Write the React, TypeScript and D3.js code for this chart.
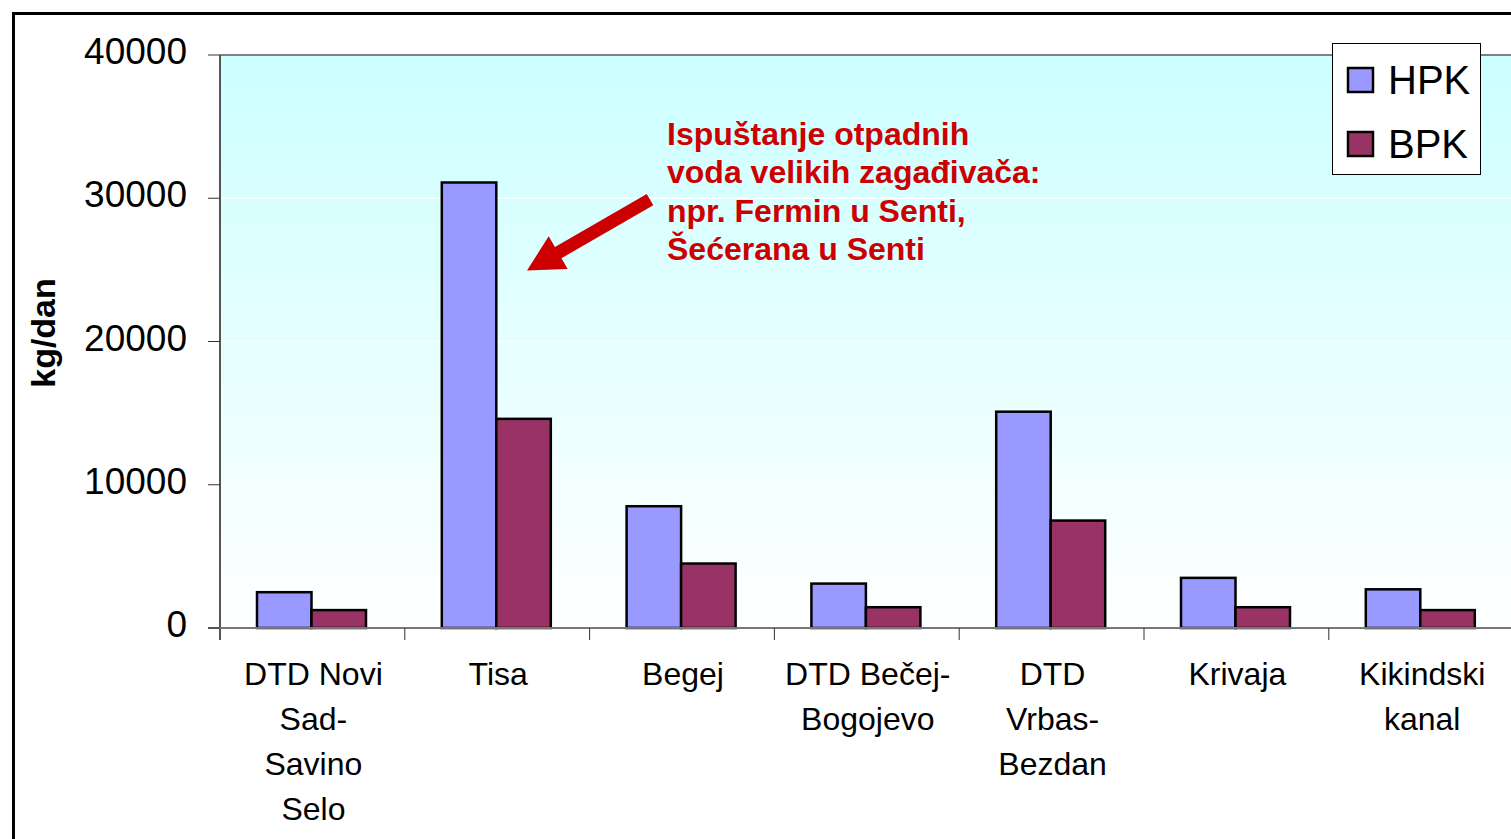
import React from 'react';
import * as d3 from 'd3';

const categories = [
  'DTD Novi Sad-Savino Selo',
  'Tisa',
  'Begej',
  'DTD Bečej-Bogojevo',
  'DTD Vrbas-Bezdan',
  'Krivaja',
  'Kikindski kanal',
];
// wrapped labels, as in the original
const categoryLines = [
  ['DTD Novi', 'Sad-', 'Savino', 'Selo'],
  ['Tisa'],
  ['Begej'],
  ['DTD Bečej-', 'Bogojevo'],
  ['DTD', 'Vrbas-', 'Bezdan'],
  ['Krivaja'],
  ['Kikindski', 'kanal'],
];
const series = ['HPK', 'BPK'];
const hpk = [2500, 31100, 8500, 3100, 15100, 3500, 2700];
const bpk = [1250, 14600, 4500, 1450, 7500, 1450, 1250];
const yTicks = [0, 10000, 20000, 30000, 40000];
const note = [
  'Ispuštanje otpadnih',
  'voda velikih zagađivača:',
  'npr. Fermin u Senti,',
  'Šećerana u Senti',
];

const colors: Record<string, string> = { HPK: '#9999FF', BPK: '#993366' };
const FONT = '"Liberation Sans", Arial, sans-serif';

export default function App() {
  const W = 1511;
  const H = 839;
  const left = 220;
  const top = 55;
  const bottom = 628;
  const step = 184.8;

  const x = d3
    .scaleBand<string>()
    .domain(categories)
    .range([left, left + step * categories.length]);
  const x1 = d3.scaleBand<string>().domain(series).range([37, 146]);
  const y = d3.scaleLinear().domain([0, 40000]).range([bottom, top]);

  const values: Record<string, number[]> = { HPK: hpk, BPK: bpk };
  const right = Math.max(x.range()[1], W + 20);

  // arrow from annotation to Tisa bars
  const tail: [number, number] = [650, y(29900)];
  const tip: [number, number] = [527, y(24950)];
  const dx = tip[0] - tail[0];
  const dy = tip[1] - tail[1];
  const len = Math.hypot(dx, dy);
  const ux = dx / len;
  const uy = dy / len;
  const px = -uy;
  const py = ux;
  const headLen = 36;
  const headHalf = 19;
  const shaftHalf = 6.5;
  const bx = tip[0] - ux * headLen;
  const by = tip[1] - uy * headLen;
  const arrowPts = [
    [tail[0] + px * shaftHalf, tail[1] + py * shaftHalf],
    [bx + px * shaftHalf, by + py * shaftHalf],
    [bx + px * headHalf, by + py * headHalf],
    tip,
    [bx - px * headHalf, by - py * headHalf],
    [bx - px * shaftHalf, by - py * shaftHalf],
    [tail[0] - px * shaftHalf, tail[1] - py * shaftHalf],
  ];

  return (
    <svg
      width={W}
      height={H}
      style={{ position: 'absolute', left: 0, top: 0, fontFamily: FONT }}
    >
      <defs>
        <linearGradient id="bg" x1="0" y1="0" x2="0" y2="1">
          <stop offset="0%" stopColor="#CCFFFF" />
          <stop offset="100%" stopColor="#FFFFFF" />
        </linearGradient>
      </defs>
      <rect x={0} y={0} width={W} height={H} fill="#fff" />
      {/* outer frame */}
      <rect x={13.5} y={13.5} width={W + 40} height={H + 40} fill="none" stroke="#000" strokeWidth={3} />

      {/* plot area */}
      <rect x={left} y={top} width={right - left} height={bottom - top} fill="url(#bg)" />
      {yTicks.slice(1, -1).map(t => (
        <line key={t} x1={left} x2={right} y1={y(t)} y2={y(t)} stroke="#fff" strokeWidth={1.5} opacity={0.9} />
      ))}
      <line x1={left} x2={right} y1={top} y2={top} stroke="#808080" strokeWidth={2} />

      {/* bars */}
      {categories.map((c, i) => (
        <g key={c} transform={`translate(${x(c)},0)`}>
          {series.map(s => (
            <rect
              key={s}
              x={x1(s)}
              y={y(values[s][i])}
              width={x1.bandwidth()}
              height={y(0) - y(values[s][i])}
              fill={colors[s]}
              stroke="#000"
              strokeWidth={2.5}
            />
          ))}
        </g>
      ))}

      {/* axes */}
      <line x1={left} x2={left} y1={top} y2={bottom + 12} stroke="#555" strokeWidth={2} />
      <line x1={left - 12} x2={right} y1={bottom} y2={bottom} stroke="#777" strokeWidth={2} />
      {yTicks.map(t => (
        <g key={t}>
          <line x1={left - 12} x2={left} y1={y(t)} y2={y(t)} stroke="#333" strokeWidth={1} />
          <text x={187} y={y(t) + 9} textAnchor="end" fontSize={37} fill="#000">
            {t}
          </text>
        </g>
      ))}
      {categories.map(c => (
        <line key={c} x1={x(c)! + step} x2={x(c)! + step} y1={bottom} y2={bottom + 12} stroke="#333" strokeWidth={1} />
      ))}
      {categories.map((c, i) => (
        <text key={c} textAnchor="middle" fontSize={32} fill="#000">
          {categoryLines[i].map((ln, j) => (
            <tspan key={j} x={x(c)! + step / 2 + 1} y={685 + j * 45}>
              {ln}
            </tspan>
          ))}
        </text>
      ))}

      {/* y label */}
      <text
        transform="translate(55,333) rotate(-90)"
        textAnchor="middle"
        fontSize={34}
        fontWeight="bold"
        fill="#000"
      >
        kg/dan
      </text>

      {/* annotation */}
      <polygon points={arrowPts.map(p => p.join(',')).join(' ')} fill="#CC0000" />
      <text fontSize={32} fontWeight="bold" fill="#CC0000">
        {note.map((ln, j) => (
          <tspan key={j} x={667} y={145 + j * 38.3}>
            {ln}
          </tspan>
        ))}
      </text>

      {/* legend */}
      <rect x={1332.5} y={43.5} width={148} height={131} fill="#fff" stroke="#000" strokeWidth={1} />
      {series.map((s, i) => (
        <g key={s} transform={`translate(1348,${68 + i * 64})`}>
          <rect width={25} height={24} fill={colors[s]} stroke="#000" strokeWidth={2.5} />
          <text x={40} y={26} fontSize={40} fill="#000">
            {s}
          </text>
        </g>
      ))}
    </svg>
  );
}
